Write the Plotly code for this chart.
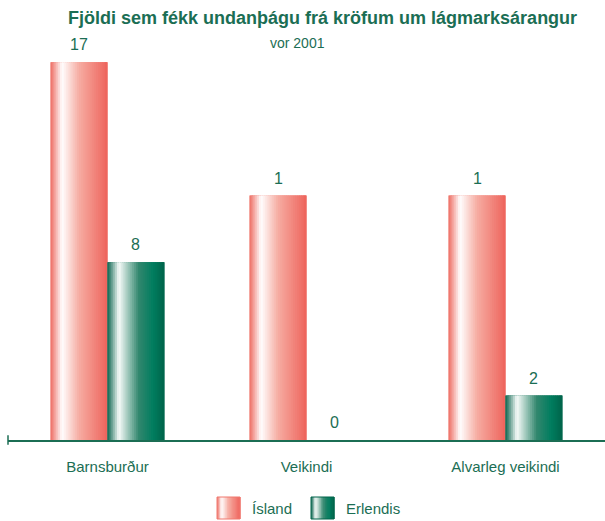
import plotly.graph_objects as go

categories = ["Barnsburður", "Veikindi", "Alvarleg veikindi"]
series_names = ["Ísland", "Erlendis"]
island_values = [17, 11, 11]
erlendis_values = [8, 0, 2]
island_labels = ["17", "1", "1"]
erlendis_labels = ["8", "0", "2"]

GREEN_TXT = "#1b6e54"
FONT = "Liberation Sans Narrow, Liberation Sans, Arial, sans-serif"

red_stops = [(0.0, (238, 108, 98)), (0.2, (255, 255, 255)), (0.5, (246, 172, 162)), (1.0, (238, 100, 92))]
green_stops = [(0.0, (10, 100, 78)), (0.2, (248, 252, 250)), (0.55, (50, 135, 110)), (0.8, (0, 125, 95)), (1.0, (0, 100, 74))]


def interp(stops, t):
    for (p0, c0), (p1, c1) in zip(stops[:-1], stops[1:]):
        if p0 <= t <= p1:
            f = (t - p0) / (p1 - p0) if p1 > p0 else 0
            return "rgb(%d,%d,%d)" % tuple(round(a + (b - a) * f) for a, b in zip(c0, c1))
    return "rgb(%d,%d,%d)" % stops[-1][1]


N = 30
BW = 0.286
fig = go.Figure()

for vals, stops, off0, edge in [(island_values, red_stops, -BW, "rgb(240,120,110)"),
                                  (erlendis_values, green_stops, 0.0, "rgb(0,100,75)")]:
    fig.add_trace(go.Bar(x=categories, y=vals, width=BW, offset=off0,
                         marker=dict(color=edge, line=dict(width=0)), showlegend=False, hoverinfo="skip"))
    sw = BW / N
    for i in range(N):
        t = (i + 0.5) / N
        fig.add_trace(go.Bar(x=categories, y=vals, width=sw * 1.8 if i < N - 1 else sw,
                             offset=off0 + i * sw,
                             marker=dict(color=interp(stops, t), line=dict(width=0)),
                             showlegend=False, hoverinfo="skip"))

W, H = 605, 521
ml, mb, mt = 8, 81, 40
pw, ph = W - ml, H - mt - mb
bar_px = BW * pw / 3

annotations = []
for vals, labels, sign in [(island_values, island_labels, -1), (erlendis_values, erlendis_labels, 1)]:
    for c, v, lab in zip(categories, vals, labels):
        annotations.append(dict(x=c, y=v, xref="x", yref="y", text=lab, showarrow=False,
                                xshift=sign * bar_px / 2, yshift=7, yanchor="bottom", xanchor="center",
                                font=dict(size=16, color=GREEN_TXT, family=FONT)))

shapes = [dict(type="line", xref="paper", yref="paper", x0=0, x1=0, y0=-0.012, y1=0.012,
               line=dict(color=GREEN_TXT, width=1.5))]

legend_items = [(series_names[0], red_stops, 217, "rgb(240,120,110)"), (series_names[1], green_stops, 311, "rgb(0,100,75)")]
for name, stops, x0px, edge in legend_items:
    y0px, y1px = 497, 519
    n = 14
    for i in range(n):
        xa = x0px + i * 23 / n
        xb = x0px + (i + 1) * 23 / n
        shapes.append(dict(type="rect", xref="paper", yref="paper",
                           x0=(xa - ml) / pw, x1=(xb - ml) / pw + 0.001,
                           y0=(H - mb - y1px) / ph, y1=(H - mb - y0px) / ph,
                           fillcolor=interp(stops, (i + 0.5) / n), line=dict(width=0)))
    shapes.append(dict(type="rect", xref="paper", yref="paper",
                       x0=(x0px - ml) / pw, x1=(x0px + 23 - ml) / pw,
                       y0=(H - mb - y1px) / ph, y1=(H - mb - y0px) / ph,
                       line=dict(color=edge, width=1)))
    annotations.append(dict(text=name, xref="paper", yref="paper", x=(x0px + 33 - ml) / pw,
                            y=(H - mb - 508) / ph, xanchor="left", yanchor="middle", showarrow=False,
                            font=dict(size=15, color=GREEN_TXT, family=FONT)))

annotations.append(dict(text="<b>Fjöldi sem fékk undanþágu frá kröfum um lágmarksárangur</b>",
                        xref="paper", yref="paper", x=(322 - ml) / pw, y=(H - mb - 18) / ph,
                        xanchor="center", yanchor="middle", showarrow=False,
                        font=dict(size=18, color=GREEN_TXT, family=FONT)))
annotations.append(dict(text="vor 2001", xref="paper", yref="paper", x=(297 - ml) / pw,
                        y=(H - mb - 43) / ph, xanchor="center", yanchor="middle", showarrow=False,
                        font=dict(size=14, color=GREEN_TXT, family=FONT)))

fig.update_layout(
    width=W, height=H, margin=dict(l=ml, r=0, t=mt, b=mb),
    plot_bgcolor="white", paper_bgcolor="white", barmode="overlay",
    showlegend=False, shapes=shapes, annotations=annotations,
    xaxis=dict(type="category", range=[-0.5, 2.5], showline=True, linecolor=GREEN_TXT, linewidth=1.5,
               ticks="", showgrid=False, tickfont=dict(size=15, color=GREEN_TXT, family=FONT),
               ticklabelstandoff=12),
    yaxis=dict(range=[0, 18], visible=False, showgrid=False),
)

fig.write_html("out.html", config={"displayModeBar": False},
               post_script="document.body.style.margin='0';document.body.style.padding='0';")
